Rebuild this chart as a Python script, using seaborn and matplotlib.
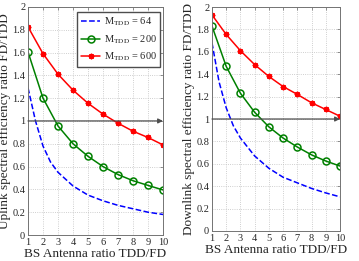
import matplotlib
matplotlib.use("Agg")
import matplotlib.pyplot as plt
import seaborn as sns

# antenna ratio TDD/FD
x = [1, 2, 3, 4, 5, 6, 7, 8, 9, 10]
x_64 = [1, 1.5, 2, 2.5, 3, 4, 5, 6, 7, 8, 9, 10]

# uplink
up_64 = [1.29, 1.0, 0.78, 0.64, 0.55, 0.43, 0.35, 0.30, 0.26, 0.23, 0.20, 0.18]
up_200 = [1.605, 1.20, 0.956, 0.80, 0.69, 0.60, 0.53, 0.476, 0.435, 0.395]
up_600 = [1.825, 1.59, 1.41, 1.27, 1.155, 1.06, 0.98, 0.91, 0.855, 0.79]

# downlink
dn_64 = [1.68, 1.33, 1.10, 0.94, 0.83, 0.67, 0.56, 0.48, 0.43, 0.38, 0.34, 0.305]
dn_200 = [1.83, 1.47, 1.23, 1.06, 0.93, 0.83, 0.75, 0.68, 0.625, 0.58]
dn_600 = [1.93, 1.755, 1.61, 1.486, 1.38, 1.29, 1.22, 1.145, 1.085, 1.025]

labels = [r"M$_{\mathrm{TDD}}$ = 64", r"M$_{\mathrm{TDD}}$ = 200", r"M$_{\mathrm{TDD}}$ = 600"]

sns.set_style("white")
plt.rcParams["font.family"] = ["Liberation Serif", "DejaVu Serif"]
plt.rcParams["mathtext.fontset"] = "stix"

fig = plt.figure(figsize=(3.59, 2.61), dpi=100)
ax1 = fig.add_axes([0.078, 0.0996, 0.376, 0.874])
ax2 = fig.add_axes([0.5905, 0.115, 0.3565, 0.858])


def draw(ax, y64, y200, y600, ylabel):
    sns.lineplot(x=x_64, y=y64, ax=ax, color="blue", lw=1.1, linestyle="--",
                 label=labels[0])
    sns.lineplot(x=x, y=y200, ax=ax, color=(0, 0.5, 0), lw=1.1, marker="o",
                 markersize=5, markerfacecolor="none", markeredgecolor=(0, 0.5, 0),
                 markeredgewidth=1.1, label=labels[1])
    sns.lineplot(x=x, y=y600, ax=ax, color="red", lw=1.1, marker=(8, 2, 0),
                 markersize=4, markeredgecolor="red", markeredgewidth=1.0,
                 label=labels[2])
    ax.annotate("", xy=(10, 1), xytext=(1, 1),
                arrowprops=dict(arrowstyle="-|>", color="0.3", lw=0.9,
                                mutation_scale=7, shrinkA=0, shrinkB=0))
    ax.set_xlim(1, 10)
    ax.set_ylim(0, 2)
    ax.set_xticks(range(1, 11))
    ax.set_yticks([0, 0.2, 0.4, 0.6, 0.8, 1, 1.2, 1.4, 1.6, 1.8, 2])
    ax.set_yticklabels(["0", "0.2", "0.4", "0.6", "0.8", "1", "1.2", "1.4", "1.6", "1.8", "2"])
    ax.grid(True, linestyle=":", color="0.75", lw=0.6)
    ax.tick_params(direction="in", top=True, right=True, labelsize=7.5,
                   length=2.5, width=0.5, color="0.4", pad=2)
    for s in ax.spines.values():
        s.set_color("0.45")
        s.set_linewidth(0.7)
    ax.set_xlabel("BS Antenna ratio TDD/FD", fontsize=9.5, labelpad=1)
    ax.set_ylabel(ylabel, fontsize=9.5, labelpad=1)


draw(ax1, up_64, up_200, up_600, "Uplink spectral efficiency ratio FD/TDD")
draw(ax2, dn_64, dn_200, dn_600, "Downlink spectral efficiency ratio FD/TDD")

ax1.legend(loc="upper left", bbox_to_anchor=(0.363, 0.978), fontsize=7.5,
           frameon=True, fancybox=False, edgecolor="0.3", framealpha=1,
           handlelength=1.9, handletextpad=0.3, borderpad=0.35, labelspacing=0.5,
           borderaxespad=0)
ax2.get_legend().remove()

fig.savefig("out.png", dpi=100)
